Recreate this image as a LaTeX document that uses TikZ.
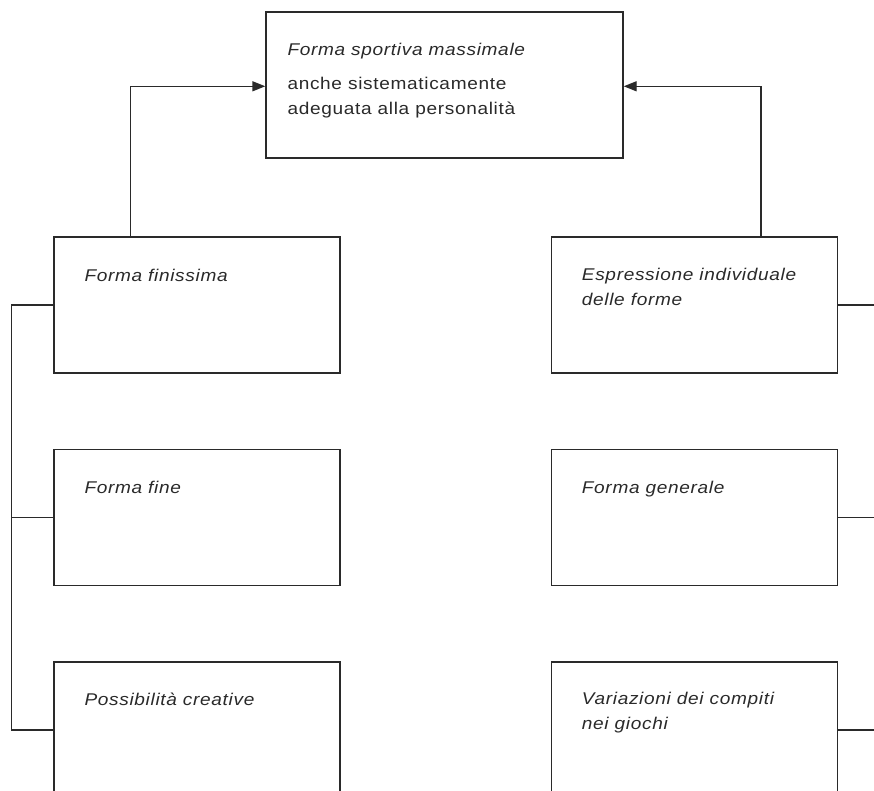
\documentclass[tikz,border=0pt]{standalone}
\usepackage{fontspec}
\usepackage{tikz}
\usetikzlibrary{positioning}
\usetikzlibrary{arrows.meta}
\newfontfamily\boxfont[FakeStretch=1.12,LetterSpace=4]{Liberation Sans}
\definecolor{ink}{HTML}{2A2A2A}
\tikzset{
  % boxes of the scheme
  box/.style={draw=ink,line width=1.4pt,inner sep=0pt,
    minimum width=286pt,minimum height=136pt},
  topbox/.style={box,minimum width=357pt,minimum height=146pt},
  % texts set at the top left of a box (base = last line)
  lbl/.style={anchor=base west,inner sep=0pt,align=left,text=ink,
    font=\boxfont\fontsize{17}{24.5}\selectfont},
  link/.style={draw=ink,line width=1.4pt},
  arr/.style={link,-{Triangle[length=13pt,width=10pt]}},
}
\begin{document}
\begin{tikzpicture}[x=1pt,y=-1pt]
  \useasboundingbox[fill=white] (0,0) rectangle (874,791);
  \node[topbox] (top) at (444.5,85) {};
  \node[box] (fin) at (197,305) {};
  \node[box,below=75pt of fin] (fine) {};
  \node[box,below=75pt of fine] (pos) {};
  \node[box,right=210pt of fin] (esp) {};
  \node[box,below=75pt of esp] (gen) {};
  \node[box,below=75pt of gen] (var) {};
  \coordinate (edge) at (880,0);
  % texts
  \node[lbl] (toptxt) at ([shift={(22,103)}]top.north west)
    {\itshape Forma sportiva massimale\\[10pt]
     anche sistematicamente\\adeguata alla personalità};
  \node[lbl] (fintxt) at ([shift={(31,45)}]fin.north west) {\itshape Forma finissima};
  \node[lbl] (finetxt) at ([shift={(31,45)}]fine.north west) {\itshape Forma fine};
  \node[lbl] (postxt) at ([shift={(31,44)}]pos.north west) {\itshape Possibilità creative};
  \node[lbl] (esptxt) at ([shift={(31,69)}]esp.north west)
    {\itshape Espressione individuale\\\itshape delle forme};
  \node[lbl] (gentxt) at ([shift={(31,45)}]gen.north west) {\itshape Forma generale};
  \node[lbl] (vartxt) at ([shift={(31,68)}]var.north west)
    {\itshape Variazioni dei compiti\\\itshape nei giochi};
  % connectors
  \draw[arr] ([xshift=77pt]fin.north west) |- ([yshift=-75pt]top.north west);
  \draw[arr] ([xshift=-77pt]esp.north east) |- ([yshift=-75pt]top.north east);
  \draw[link] (fin.west) -- ++(-42,0) |- (pos.west);
  \draw[link] (fine.west) -- ++(-42,0);
  \draw[link] (esp.east) -- (esp.east -| edge);
  \draw[link] (gen.east) -- (gen.east -| edge);
  \draw[link] (var.east) -- (var.east -| edge);
\end{tikzpicture}
\end{document}
